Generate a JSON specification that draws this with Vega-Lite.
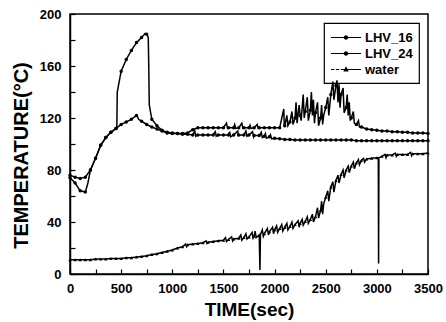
{
  "$schema": "https://vega.github.io/schema/vega-lite/v6.json",
  "autosize": "none",
  "width": 358,
  "height": 260,
  "padding": {"left": 70, "top": 14, "right": 18, "bottom": 48},
  "background": "white",
  "config": {
    "font": "Liberation Sans",
    "view": {"stroke": "black", "strokeWidth": 1.5},
    "axis": {
      "domainColor": "black", "domainWidth": 1.5,
      "tickColor": "black", "tickWidth": 1.2, "tickSize": -5,
      "labelFont": "Liberation Sans", "labelFontSize": 13, "labelFontWeight": "bold", "labelColor": "black",
      "titleFont": "Liberation Sans", "titleFontSize": 19, "titleFontWeight": "bold", "titleColor": "black",
      "grid": false
    },
    "axisY": {"titleFontSize": 20, "titleY": 141},
    "legend": {
      "orient": "top-right", "offset": 9,
      "strokeColor": "black", "strokeWidth": 1.2, "padding": 6,
      "labelFont": "Liberation Sans", "labelFontSize": 13, "labelFontWeight": "bold", "labelColor": "black",
      "symbolOpacity": 1, "rowPadding": -2
    }
  },
  "data": {"values": [
    {"series":"LHV_16","time":0,"temp":76},{"series":"LHV_16","time":50,"temp":74.5},{"series":"LHV_16","time":100,"temp":73.5},{"series":"LHV_16","time":150,"temp":74.5},{"series":"LHV_16","time":200,"temp":80},{"series":"LHV_16","time":250,"temp":89},{"series":"LHV_16","time":300,"temp":99},{"series":"LHV_16","time":350,"temp":105},{"series":"LHV_16","time":400,"temp":109},{"series":"LHV_16","time":450,"temp":112},{"series":"LHV_16","time":458,"temp":113},{"series":"LHV_16","time":462,"temp":140},{"series":"LHV_16","time":500,"temp":156},{"series":"LHV_16","time":550,"temp":165},{"series":"LHV_16","time":600,"temp":172},{"series":"LHV_16","time":650,"temp":178},{"series":"LHV_16","time":700,"temp":182},{"series":"LHV_16","time":735,"temp":185},{"series":"LHV_16","time":750,"temp":184.5},{"series":"LHV_16","time":765,"temp":182},{"series":"LHV_16","time":770,"temp":160},{"series":"LHV_16","time":775,"temp":130},{"series":"LHV_16","time":800,"temp":119},{"series":"LHV_16","time":850,"temp":114},{"series":"LHV_16","time":900,"temp":110.5},{"series":"LHV_16","time":950,"temp":109},{"series":"LHV_16","time":1000,"temp":108.5},{"series":"LHV_16","time":1050,"temp":108},{"series":"LHV_16","time":1100,"temp":108},{"series":"LHV_16","time":1150,"temp":108.5},{"series":"LHV_16","time":1200,"temp":111},{"series":"LHV_16","time":1250,"temp":112.5},{"series":"LHV_16","time":1300,"temp":112.5},{"series":"LHV_16","time":1350,"temp":112.5},{"series":"LHV_16","time":1400,"temp":112.5},{"series":"LHV_16","time":1450,"temp":112.5},{"series":"LHV_16","time":1500,"temp":112.5},{"series":"LHV_16","time":1530,"temp":116},{"series":"LHV_16","time":1540,"temp":112},{"series":"LHV_16","time":1550,"temp":112.5},{"series":"LHV_16","time":1600,"temp":112.5},{"series":"LHV_16","time":1610,"temp":115},{"series":"LHV_16","time":1620,"temp":112},{"series":"LHV_16","time":1650,"temp":112.5},{"series":"LHV_16","time":1680,"temp":116},{"series":"LHV_16","time":1690,"temp":112},{"series":"LHV_16","time":1700,"temp":112.5},{"series":"LHV_16","time":1750,"temp":112.5},{"series":"LHV_16","time":1760,"temp":114.5},{"series":"LHV_16","time":1770,"temp":112},{"series":"LHV_16","time":1800,"temp":112.5},{"series":"LHV_16","time":1830,"temp":115},{"series":"LHV_16","time":1840,"temp":112},{"series":"LHV_16","time":1850,"temp":112.5},{"series":"LHV_16","time":1900,"temp":112.5},{"series":"LHV_16","time":1950,"temp":112.5},{"series":"LHV_16","time":2000,"temp":112.5},{"series":"LHV_16","time":2050,"temp":112.5},{"series":"LHV_16","time":2090,"temp":127},{"series":"LHV_16","time":2095,"temp":113},{"series":"LHV_16","time":2100,"temp":114},{"series":"LHV_16","time":2120,"temp":122},{"series":"LHV_16","time":2130,"temp":114},{"series":"LHV_16","time":2150,"temp":117},{"series":"LHV_16","time":2170,"temp":125},{"series":"LHV_16","time":2180,"temp":115},{"series":"LHV_16","time":2200,"temp":120},{"series":"LHV_16","time":2210,"temp":132},{"series":"LHV_16","time":2220,"temp":116},{"series":"LHV_16","time":2240,"temp":130},{"series":"LHV_16","time":2250,"temp":122},{"series":"LHV_16","time":2260,"temp":118},{"series":"LHV_16","time":2280,"temp":138},{"series":"LHV_16","time":2290,"temp":120},{"series":"LHV_16","time":2300,"temp":125},{"series":"LHV_16","time":2320,"temp":136},{"series":"LHV_16","time":2330,"temp":118},{"series":"LHV_16","time":2350,"temp":126},{"series":"LHV_16","time":2360,"temp":140},{"series":"LHV_16","time":2370,"temp":122},{"series":"LHV_16","time":2380,"temp":134},{"series":"LHV_16","time":2390,"temp":116},{"series":"LHV_16","time":2400,"temp":124},{"series":"LHV_16","time":2420,"temp":132},{"series":"LHV_16","time":2430,"temp":114},{"series":"LHV_16","time":2450,"temp":120},{"series":"LHV_16","time":2460,"temp":130},{"series":"LHV_16","time":2470,"temp":115},{"series":"LHV_16","time":2480,"temp":122},{"series":"LHV_16","time":2500,"temp":128},{"series":"LHV_16","time":2520,"temp":136},{"series":"LHV_16","time":2530,"temp":122},{"series":"LHV_16","time":2550,"temp":138},{"series":"LHV_16","time":2570,"temp":148},{"series":"LHV_16","time":2580,"temp":134},{"series":"LHV_16","time":2600,"temp":145},{"series":"LHV_16","time":2610,"temp":149},{"series":"LHV_16","time":2620,"temp":132},{"series":"LHV_16","time":2630,"temp":146},{"series":"LHV_16","time":2640,"temp":128},{"series":"LHV_16","time":2650,"temp":138},{"series":"LHV_16","time":2670,"temp":143},{"series":"LHV_16","time":2680,"temp":124},{"series":"LHV_16","time":2700,"temp":128},{"series":"LHV_16","time":2710,"temp":138},{"series":"LHV_16","time":2720,"temp":122},{"series":"LHV_16","time":2730,"temp":132},{"series":"LHV_16","time":2740,"temp":118},{"series":"LHV_16","time":2750,"temp":120},{"series":"LHV_16","time":2770,"temp":125},{"series":"LHV_16","time":2780,"temp":116},{"series":"LHV_16","time":2800,"temp":115},{"series":"LHV_16","time":2820,"temp":118},{"series":"LHV_16","time":2830,"temp":113},{"series":"LHV_16","time":2850,"temp":113},{"series":"LHV_16","time":2900,"temp":111.5},{"series":"LHV_16","time":2950,"temp":111},{"series":"LHV_16","time":3000,"temp":110.5},{"series":"LHV_16","time":3050,"temp":110},{"series":"LHV_16","time":3100,"temp":110},{"series":"LHV_16","time":3150,"temp":109.5},{"series":"LHV_16","time":3200,"temp":109.5},{"series":"LHV_16","time":3250,"temp":109},{"series":"LHV_16","time":3300,"temp":109},{"series":"LHV_16","time":3350,"temp":108.5},{"series":"LHV_16","time":3400,"temp":108.5},{"series":"LHV_16","time":3450,"temp":108.5},{"series":"LHV_16","time":3500,"temp":108},

    {"series":"LHV_24","time":0,"temp":74},{"series":"LHV_24","time":50,"temp":70},{"series":"LHV_24","time":100,"temp":64},{"series":"LHV_24","time":150,"temp":63},{"series":"LHV_24","time":175,"temp":70},{"series":"LHV_24","time":200,"temp":80},{"series":"LHV_24","time":250,"temp":89},{"series":"LHV_24","time":300,"temp":99},{"series":"LHV_24","time":350,"temp":105},{"series":"LHV_24","time":400,"temp":109},{"series":"LHV_24","time":450,"temp":112},{"series":"LHV_24","time":500,"temp":115},{"series":"LHV_24","time":550,"temp":117},{"series":"LHV_24","time":600,"temp":119},{"series":"LHV_24","time":650,"temp":122},{"series":"LHV_24","time":660,"temp":121},{"series":"LHV_24","time":670,"temp":119},{"series":"LHV_24","time":700,"temp":117.5},{"series":"LHV_24","time":750,"temp":115},{"series":"LHV_24","time":800,"temp":113},{"series":"LHV_24","time":850,"temp":111.5},{"series":"LHV_24","time":900,"temp":110},{"series":"LHV_24","time":950,"temp":108.5},{"series":"LHV_24","time":1000,"temp":108},{"series":"LHV_24","time":1050,"temp":108},{"series":"LHV_24","time":1100,"temp":107.5},{"series":"LHV_24","time":1150,"temp":107.5},{"series":"LHV_24","time":1200,"temp":107},{"series":"LHV_24","time":1220,"temp":110},{"series":"LHV_24","time":1230,"temp":106},{"series":"LHV_24","time":1250,"temp":107},{"series":"LHV_24","time":1300,"temp":107},{"series":"LHV_24","time":1350,"temp":107},{"series":"LHV_24","time":1400,"temp":107},{"series":"LHV_24","time":1420,"temp":109.5},{"series":"LHV_24","time":1430,"temp":106},{"series":"LHV_24","time":1450,"temp":107},{"series":"LHV_24","time":1500,"temp":107},{"series":"LHV_24","time":1550,"temp":107},{"series":"LHV_24","time":1560,"temp":109.5},{"series":"LHV_24","time":1570,"temp":105.5},{"series":"LHV_24","time":1600,"temp":107},{"series":"LHV_24","time":1640,"temp":110},{"series":"LHV_24","time":1645,"temp":106},{"series":"LHV_24","time":1650,"temp":107},{"series":"LHV_24","time":1700,"temp":107},{"series":"LHV_24","time":1720,"temp":110},{"series":"LHV_24","time":1730,"temp":106},{"series":"LHV_24","time":1750,"temp":107},{"series":"LHV_24","time":1785,"temp":109.5},{"series":"LHV_24","time":1795,"temp":105.5},{"series":"LHV_24","time":1800,"temp":106.5},{"series":"LHV_24","time":1850,"temp":106.5},{"series":"LHV_24","time":1870,"temp":109},{"series":"LHV_24","time":1880,"temp":105},{"series":"LHV_24","time":1900,"temp":106},{"series":"LHV_24","time":1910,"temp":108},{"series":"LHV_24","time":1920,"temp":104.5},{"series":"LHV_24","time":1950,"temp":105.5},{"series":"LHV_24","time":1960,"temp":107},{"series":"LHV_24","time":1970,"temp":104},{"series":"LHV_24","time":2000,"temp":104.5},{"series":"LHV_24","time":2050,"temp":104},{"series":"LHV_24","time":2100,"temp":103.5},{"series":"LHV_24","time":2150,"temp":103.5},{"series":"LHV_24","time":2200,"temp":103},{"series":"LHV_24","time":2250,"temp":103},{"series":"LHV_24","time":2300,"temp":103},{"series":"LHV_24","time":2350,"temp":103},{"series":"LHV_24","time":2400,"temp":103},{"series":"LHV_24","time":2450,"temp":103},{"series":"LHV_24","time":2500,"temp":103},{"series":"LHV_24","time":2550,"temp":103},{"series":"LHV_24","time":2600,"temp":103},{"series":"LHV_24","time":2650,"temp":103},{"series":"LHV_24","time":2700,"temp":103},{"series":"LHV_24","time":2750,"temp":103},{"series":"LHV_24","time":2800,"temp":102.5},{"series":"LHV_24","time":2850,"temp":102.5},{"series":"LHV_24","time":2900,"temp":102.5},{"series":"LHV_24","time":2950,"temp":102.5},{"series":"LHV_24","time":3000,"temp":102.5},{"series":"LHV_24","time":3050,"temp":102.5},{"series":"LHV_24","time":3100,"temp":102.5},{"series":"LHV_24","time":3150,"temp":102.5},{"series":"LHV_24","time":3200,"temp":102.5},{"series":"LHV_24","time":3250,"temp":102.5},{"series":"LHV_24","time":3300,"temp":102.5},{"series":"LHV_24","time":3350,"temp":102.5},{"series":"LHV_24","time":3400,"temp":102.5},{"series":"LHV_24","time":3450,"temp":102.5},{"series":"LHV_24","time":3500,"temp":102.5},

    {"series":"water","time":0,"temp":11},{"series":"water","time":50,"temp":11},{"series":"water","time":100,"temp":11},{"series":"water","time":150,"temp":11},{"series":"water","time":200,"temp":11},{"series":"water","time":250,"temp":11.5},{"series":"water","time":300,"temp":11.5},{"series":"water","time":350,"temp":11.5},{"series":"water","time":400,"temp":12},{"series":"water","time":450,"temp":12},{"series":"water","time":500,"temp":12},{"series":"water","time":550,"temp":12.5},{"series":"water","time":600,"temp":12.5},{"series":"water","time":650,"temp":13},{"series":"water","time":700,"temp":13.5},{"series":"water","time":750,"temp":14},{"series":"water","time":800,"temp":15},{"series":"water","time":850,"temp":15.5},{"series":"water","time":900,"temp":16.5},{"series":"water","time":950,"temp":17.5},{"series":"water","time":1000,"temp":18.5},{"series":"water","time":1050,"temp":20},{"series":"water","time":1100,"temp":21},{"series":"water","time":1130,"temp":23},{"series":"water","time":1140,"temp":21},{"series":"water","time":1150,"temp":22.5},{"series":"water","time":1200,"temp":23},{"series":"water","time":1250,"temp":23.5},{"series":"water","time":1300,"temp":24},{"series":"water","time":1330,"temp":25.5},{"series":"water","time":1340,"temp":23.5},{"series":"water","time":1350,"temp":24.5},{"series":"water","time":1400,"temp":25},{"series":"water","time":1450,"temp":25.5},{"series":"water","time":1500,"temp":26},{"series":"water","time":1520,"temp":28},{"series":"water","time":1530,"temp":25},{"series":"water","time":1550,"temp":26.5},{"series":"water","time":1580,"temp":28.5},{"series":"water","time":1590,"temp":25.5},{"series":"water","time":1600,"temp":27},{"series":"water","time":1650,"temp":27.5},{"series":"water","time":1670,"temp":30},{"series":"water","time":1680,"temp":26},{"series":"water","time":1700,"temp":28},{"series":"water","time":1720,"temp":31},{"series":"water","time":1730,"temp":27},{"series":"water","time":1750,"temp":28.5},{"series":"water","time":1780,"temp":32},{"series":"water","time":1790,"temp":27.5},{"series":"water","time":1800,"temp":29},{"series":"water","time":1810,"temp":33},{"series":"water","time":1820,"temp":28},{"series":"water","time":1850,"temp":30},{"series":"water","time":1857,"temp":3},{"series":"water","time":1862,"temp":30.5},{"series":"water","time":1880,"temp":34},{"series":"water","time":1890,"temp":29},{"series":"water","time":1900,"temp":31},{"series":"water","time":1930,"temp":35},{"series":"water","time":1940,"temp":30},{"series":"water","time":1950,"temp":32.5},{"series":"water","time":1980,"temp":36},{"series":"water","time":1990,"temp":31},{"series":"water","time":2000,"temp":34},{"series":"water","time":2020,"temp":37},{"series":"water","time":2030,"temp":32},{"series":"water","time":2050,"temp":35},{"series":"water","time":2070,"temp":38},{"series":"water","time":2080,"temp":33},{"series":"water","time":2100,"temp":36},{"series":"water","time":2120,"temp":39},{"series":"water","time":2130,"temp":34},{"series":"water","time":2150,"temp":36.5},{"series":"water","time":2170,"temp":40},{"series":"water","time":2180,"temp":35},{"series":"water","time":2200,"temp":38},{"series":"water","time":2230,"temp":41},{"series":"water","time":2240,"temp":36},{"series":"water","time":2250,"temp":39},{"series":"water","time":2270,"temp":42},{"series":"water","time":2280,"temp":37.5},{"series":"water","time":2300,"temp":40.5},{"series":"water","time":2320,"temp":44},{"series":"water","time":2330,"temp":39},{"series":"water","time":2350,"temp":42},{"series":"water","time":2370,"temp":46},{"series":"water","time":2380,"temp":40},{"series":"water","time":2400,"temp":44},{"series":"water","time":2420,"temp":51},{"series":"water","time":2430,"temp":43},{"series":"water","time":2450,"temp":49},{"series":"water","time":2460,"temp":56},{"series":"water","time":2470,"temp":46},{"series":"water","time":2480,"temp":54},{"series":"water","time":2500,"temp":59},{"series":"water","time":2520,"temp":64},{"series":"water","time":2530,"temp":56},{"series":"water","time":2550,"temp":67},{"series":"water","time":2570,"temp":71},{"series":"water","time":2580,"temp":63},{"series":"water","time":2600,"temp":72},{"series":"water","time":2620,"temp":76},{"series":"water","time":2630,"temp":70},{"series":"water","time":2650,"temp":76.5},{"series":"water","time":2670,"temp":80},{"series":"water","time":2680,"temp":74},{"series":"water","time":2700,"temp":80},{"series":"water","time":2720,"temp":83},{"series":"water","time":2730,"temp":78},{"series":"water","time":2750,"temp":83},{"series":"water","time":2770,"temp":86},{"series":"water","time":2780,"temp":81},{"series":"water","time":2800,"temp":85.5},{"series":"water","time":2820,"temp":88},{"series":"water","time":2830,"temp":84},{"series":"water","time":2850,"temp":87.5},{"series":"water","time":2870,"temp":89},{"series":"water","time":2880,"temp":86},{"series":"water","time":2900,"temp":88.5},{"series":"water","time":2950,"temp":89},{"series":"water","time":3000,"temp":89.5},{"series":"water","time":3014,"temp":89.5},{"series":"water","time":3017,"temp":8},{"series":"water","time":3020,"temp":89.5},{"series":"water","time":3050,"temp":90.5},{"series":"water","time":3080,"temp":92},{"series":"water","time":3090,"temp":89.5},{"series":"water","time":3100,"temp":91.5},{"series":"water","time":3150,"temp":91.5},{"series":"water","time":3180,"temp":93},{"series":"water","time":3190,"temp":90.5},{"series":"water","time":3200,"temp":92},{"series":"water","time":3250,"temp":92},{"series":"water","time":3300,"temp":92},{"series":"water","time":3330,"temp":93.5},{"series":"water","time":3340,"temp":91},{"series":"water","time":3350,"temp":92.5},{"series":"water","time":3400,"temp":92.5},{"series":"water","time":3450,"temp":92.5},{"series":"water","time":3500,"temp":93}
  ]},
  "encoding": {
    "x": {
      "field": "time", "type": "quantitative",
      "scale": {"domain": [0, 3500], "nice": false},
      "axis": {
        "title": "TIME(sec)",
        "values": [0,250,500,750,1000,1250,1500,1750,2000,2250,2500,2750,3000,3250,3500],
        "labelExpr": "datum.value % 500 === 0 ? datum.label : ''",
        "format": "d",
        "labelPadding": 13, "titlePadding": 5, "labelFlush": false
      }
    },
    "y": {
      "field": "temp", "type": "quantitative",
      "scale": {"domain": [0, 200], "nice": false},
      "axis": {
        "title": "TEMPERATURE(°C)",
        "values": [0,20,40,60,80,100,120,140,160,180,200],
        "labelExpr": "datum.value % 40 === 0 ? datum.label : ''",
        "labelPadding": 14, "titlePadding": 8, "labelFlush": false
      }
    }
  },
  "resolve": {"scale": {"shape": "independent"}},
  "layer": [
    {
      "mark": {"type": "line", "color": "black", "strokeWidth": 1.5},
      "encoding": {"detail": {"field": "series"}}
    },
    {
      "transform": [{"filter": "datum.time % 50 === 0"}],
      "mark": {"type": "point", "filled": true, "color": "black", "size": 12, "opacity": 1},
      "encoding": {
        "shape": {
          "field": "series", "type": "nominal",
          "scale": {"domain": ["LHV_16", "LHV_24", "water"], "range": ["circle", "circle", "triangle-up"]},
          "legend": null
        }
      }
    },
    {
      "transform": [{"filter": "datum.time === 0"}],
      "mark": {"type": "point", "filled": true, "color": "black", "size": 225, "opacity": 0},
      "encoding": {
        "shape": {
          "field": "series", "type": "nominal",
          "scale": {"domain": ["LHV_16", "LHV_24", "water"], "range": [
            "M-1,-0.08L3,-0.08L3,0.08L-1,0.08ZM1.3,0A0.3,0.3 0 1,1 0.7,0A0.3,0.3 0 1,1 1.3,0Z",
            "M-1,-0.08L3,-0.08L3,0.08L-1,0.08ZM1.3,0A0.3,0.3 0 1,1 0.7,0A0.3,0.3 0 1,1 1.3,0Z",
            "M-1,-0.08L-0.55,-0.08L-0.55,0.08L-1,0.08ZM-0.35,-0.08L0.1,-0.08L0.1,0.08L-0.35,0.08ZM0.3,-0.08L3,-0.08L3,0.08L0.3,0.08ZM1,-0.42L1.36,0.26L0.64,0.26Z"
          ]},
          "legend": {"title": null, "symbolOpacity": 1, "symbolSize": 225, "labelOffset": 18, "rowPadding": -2}
        }
      }
    }
  ]
}
